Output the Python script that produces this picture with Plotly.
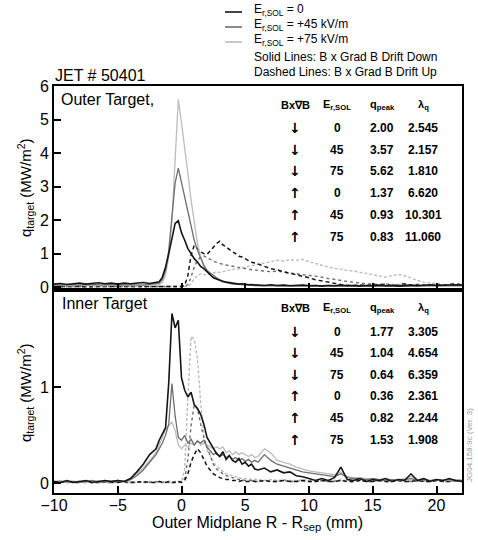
import plotly.graph_objects as go
from plotly.subplots import make_subplots

# ---------------- data ----------------
X = [-10, -9.5, -9, -8.5, -8, -7.5, -7, -6.5, -6, -5.5, -5, -4.5, -4, -3.5, -3, -2.5,
     -2, -1.75, -1.5, -1.25, -1, -0.75, -0.5, -0.25, 0, 0.25, 0.5, 0.75, 1, 1.25, 1.5, 1.75,
     2, 2.25, 2.5, 2.75, 3, 3.25, 3.5, 3.75, 4, 4.25, 4.5, 4.75, 5, 5.25, 5.5, 5.75,
     6, 6.5, 7, 7.5, 8, 8.5, 9, 9.5, 10, 10.5, 11, 11.5, 12, 12.5, 13, 13.5, 14, 14.5,
     15, 15.5, 16, 16.5, 17, 17.5, 18, 18.5, 19, 19.5, 20, 20.5, 21, 21.5, 22]

# Outer target
OUT_SOLID_0 = [0.09, 0.11, 0.08, 0.10, 0.12, 0.09, 0.11, 0.13, 0.10, 0.12, 0.09, 0.12, 0.10, 0.12, 0.14, 0.11,
               0.13, 0.16, 0.30, 0.60, 1.00, 1.45, 1.90, 1.98, 1.62, 1.40, 1.15, 1.00, 0.85, 0.75, 0.62, 0.55,
               0.45, 0.36, 0.28, 0.24, 0.20, 0.17, 0.15, 0.13, 0.12, 0.10, 0.09, 0.10, 0.08, 0.07, 0.08, 0.06,
               0.06, 0.05, 0.07, 0.05, 0.06, 0.04, 0.05, 0.06, 0.04, 0.05, 0.03, 0.05, 0.04, 0.06, 0.04, 0.05,
               0.03, 0.05, 0.04, 0.06, 0.04, 0.05, 0.03, 0.05, 0.06, 0.04, 0.05, 0.07, 0.05, 0.06, 0.05, 0.07, 0.06]
OUT_SOLID_45 = [0.07, 0.06, 0.08, 0.07, 0.06, 0.08, 0.07, 0.06, 0.07, 0.08, 0.06, 0.07, 0.08, 0.07, 0.06, 0.08,
                0.09, 0.12, 0.22, 0.50, 1.10, 2.10, 3.10, 3.55, 3.10, 2.70, 2.20, 1.75, 1.40, 1.10, 0.85, 0.65,
                0.50, 0.42, 0.35, 0.28, 0.22, 0.18, 0.15, 0.12, 0.10, 0.09, 0.08, 0.07, 0.06, 0.06, 0.05, 0.05,
                0.05, 0.04, 0.05, 0.04, 0.05, 0.04, 0.04, 0.05, 0.03, 0.04, 0.05, 0.04, 0.03, 0.04, 0.05, 0.04,
                0.03, 0.04, 0.05, 0.04, 0.03, 0.04, 0.05, 0.04, 0.03, 0.04, 0.05, 0.04, 0.05, 0.04, 0.05, 0.04, 0.05]
OUT_SOLID_75 = [0.05, 0.06, 0.05, 0.04, 0.06, 0.05, 0.06, 0.05, 0.04, 0.06, 0.05, 0.06, 0.05, 0.04, 0.06, 0.05,
                0.06, 0.08, 0.14, 0.35, 0.90, 2.00, 3.80, 5.60, 4.90, 4.20, 3.40, 2.60, 1.90, 1.30, 0.90, 0.65,
                0.50, 0.38, 0.30, 0.24, 0.20, 0.16, 0.13, 0.11, 0.10, 0.09, 0.08, 0.07, 0.07, 0.06, 0.06, 0.05,
                0.05, 0.05, 0.04, 0.05, 0.04, 0.05, 0.04, 0.05, 0.04, 0.04, 0.05, 0.04, 0.05, 0.04, 0.04, 0.05,
                0.04, 0.05, 0.04, 0.04, 0.05, 0.04, 0.05, 0.04, 0.04, 0.05, 0.04, 0.05, 0.04, 0.04, 0.05, 0.04, 0.05]
OUT_DASH_0 = [0.02, 0.01, 0.02, 0.02, 0.01, 0.02, 0.01, 0.02, 0.02, 0.01, 0.02, 0.01, 0.02, 0.02, 0.01, 0.02,
              0.02, 0.01, 0.02, 0.02, 0.01, 0.02, 0.02, 0.01, 0.02, 0.05, 0.35, 0.95, 1.25, 1.15, 1.05, 1.00,
              0.98, 1.08, 1.20, 1.30, 1.37, 1.26, 1.20, 1.12, 1.05, 1.00, 0.92, 0.90, 0.84, 0.80, 0.74, 0.72,
              0.68, 0.62, 0.55, 0.52, 0.46, 0.42, 0.38, 0.33, 0.28, 0.22, 0.18, 0.14, 0.10, 0.08, 0.06, 0.05,
              0.07, 0.05, 0.08, 0.06, 0.09, 0.05, 0.07, 0.10, 0.06, 0.08, 0.05, 0.07, 0.09, 0.06, 0.08, 0.10, 0.07]
OUT_DASH_45 = [0.02, 0.02, 0.01, 0.02, 0.02, 0.01, 0.02, 0.02, 0.01, 0.02, 0.02, 0.01, 0.02, 0.02, 0.01, 0.02,
               0.02, 0.02, 0.01, 0.02, 0.02, 0.01, 0.02, 0.02, 0.01, 0.02, 0.08, 0.30, 0.60, 0.80, 0.90, 0.93,
               0.88, 0.82, 0.78, 0.74, 0.70, 0.68, 0.66, 0.64, 0.62, 0.60, 0.58, 0.57, 0.55, 0.54, 0.52, 0.51,
               0.50, 0.48, 0.46, 0.48, 0.44, 0.42, 0.40, 0.38, 0.36, 0.33, 0.30, 0.26, 0.22, 0.20, 0.17, 0.14,
               0.12, 0.10, 0.09, 0.08, 0.10, 0.07, 0.06, 0.08, 0.06, 0.05, 0.07, 0.05, 0.06, 0.05, 0.06, 0.05, 0.05]
OUT_DASH_75 = [0.02, 0.01, 0.02, 0.01, 0.02, 0.01, 0.02, 0.01, 0.02, 0.01, 0.02, 0.01, 0.02, 0.01, 0.02, 0.01,
               0.02, 0.01, 0.02, 0.01, 0.02, 0.01, 0.02, 0.01, 0.02, 0.01, 0.02, 0.10, 0.25, 0.35, 0.40, 0.38,
               0.36, 0.40, 0.42, 0.45, 0.44, 0.46, 0.48, 0.50, 0.52, 0.55, 0.54, 0.58, 0.60, 0.62, 0.64, 0.66,
               0.68, 0.72, 0.76, 0.80, 0.78, 0.82, 0.80, 0.83, 0.76, 0.70, 0.64, 0.60, 0.56, 0.52, 0.50, 0.48,
               0.44, 0.40, 0.36, 0.32, 0.30, 0.34, 0.38, 0.34, 0.26, 0.20, 0.15, 0.12, 0.10, 0.08, 0.06, 0.05, 0.05]

# Inner target
IN_SOLID_0 = [0.02, 0.01, 0.03, 0.01, 0.02, 0.03, 0.01, 0.02, 0.03, 0.02, 0.03, 0.02, 0.05, 0.12, 0.20, 0.30,
              0.36, 0.45, 0.52, 0.58, 1.05, 1.77, 1.62, 1.70, 1.10, 0.97, 0.90, 0.95, 0.82, 0.78, 0.72, 0.62,
              0.48, 0.42, 0.36, 0.31, 0.28, 0.33, 0.25, 0.29, 0.24, 0.22, 0.26, 0.20, 0.22, 0.18, 0.20, 0.15,
              0.14, 0.16, 0.12, 0.14, 0.11, 0.12, 0.08, 0.07, 0.05, 0.03, 0.05, 0.03, 0.06, 0.17, 0.04, 0.03,
              0.05, 0.02, 0.04, 0.03, 0.05, 0.02, 0.04, 0.03, 0.10, 0.03, 0.05, 0.02, 0.04, 0.03, 0.05, 0.03, 0.02]
IN_SOLID_45 = [0.02, 0.01, 0.02, 0.02, 0.01, 0.02, 0.03, 0.01, 0.02, 0.02, 0.03, 0.02, 0.04, 0.08, 0.14, 0.22,
               0.30, 0.36, 0.42, 0.50, 0.62, 1.04, 0.70, 0.48, 0.45, 0.50, 0.42, 0.46, 0.40, 0.44, 0.42, 0.45,
               0.38, 0.34, 0.30, 0.32, 0.28, 0.30, 0.27, 0.29, 0.25, 0.27, 0.24, 0.26, 0.23, 0.25, 0.22, 0.24,
               0.22, 0.30, 0.24, 0.20, 0.18, 0.16, 0.14, 0.12, 0.11, 0.10, 0.09, 0.08, 0.07, 0.10, 0.06, 0.05,
               0.05, 0.04, 0.05, 0.04, 0.03, 0.04, 0.03, 0.04, 0.05, 0.03, 0.04, 0.03, 0.04, 0.03, 0.04, 0.03, 0.03]
IN_SOLID_75 = [0.02, 0.03, 0.01, 0.02, 0.02, 0.01, 0.02, 0.03, 0.02, 0.02, 0.03, 0.02, 0.05, 0.10, 0.16, 0.24,
               0.32, 0.40, 0.48, 0.56, 0.60, 0.64, 0.55, 0.40, 0.36, 0.40, 0.38, 0.42, 0.40, 0.45, 0.40, 0.42,
               0.40, 0.38, 0.36, 0.38, 0.36, 0.38, 0.32, 0.34, 0.30, 0.33, 0.30, 0.32, 0.30, 0.28, 0.30, 0.27,
               0.28, 0.36, 0.32, 0.24, 0.22, 0.20, 0.17, 0.15, 0.13, 0.12, 0.11, 0.10, 0.09, 0.12, 0.07, 0.06,
               0.06, 0.05, 0.05, 0.04, 0.05, 0.04, 0.04, 0.05, 0.07, 0.04, 0.05, 0.03, 0.04, 0.04, 0.03, 0.04, 0.03]
IN_DASH_0 = [0.01, 0.01, 0.02, 0.01, 0.01, 0.02, 0.01, 0.01, 0.02, 0.01, 0.01, 0.02, 0.01, 0.01, 0.02, 0.01,
             0.01, 0.02, 0.01, 0.01, 0.02, 0.01, 0.01, 0.02, 0.01, 0.03, 0.10, 0.22, 0.30, 0.36, 0.32, 0.25,
             0.18, 0.14, 0.10, 0.08, 0.06, 0.05, 0.04, 0.04, 0.03, 0.03, 0.02, 0.03, 0.02, 0.02, 0.03, 0.02,
             0.02, 0.03, 0.02, 0.02, 0.03, 0.02, 0.02, 0.03, 0.02, 0.02, 0.03, 0.02, 0.02, 0.03, 0.02, 0.02,
             0.03, 0.02, 0.02, 0.03, 0.02, 0.02, 0.03, 0.02, 0.02, 0.03, 0.02, 0.02, 0.03, 0.02, 0.02, 0.03, 0.02]
IN_DASH_45 = [0.01, 0.02, 0.01, 0.01, 0.02, 0.01, 0.01, 0.02, 0.01, 0.01, 0.02, 0.01, 0.01, 0.02, 0.01, 0.01,
              0.02, 0.01, 0.01, 0.02, 0.01, 0.01, 0.02, 0.01, 0.02, 0.05, 0.25, 0.60, 0.82, 0.78, 0.62, 0.48,
              0.38, 0.28, 0.20, 0.15, 0.12, 0.10, 0.08, 0.07, 0.06, 0.05, 0.04, 0.04, 0.03, 0.03, 0.03, 0.02,
              0.02, 0.03, 0.02, 0.02, 0.03, 0.02, 0.02, 0.03, 0.02, 0.02, 0.03, 0.02, 0.02, 0.03, 0.02, 0.02,
              0.03, 0.02, 0.02, 0.03, 0.02, 0.02, 0.03, 0.02, 0.02, 0.03, 0.02, 0.02, 0.03, 0.02, 0.02, 0.03, 0.02]
IN_DASH_75 = [0.02, 0.01, 0.02, 0.02, 0.01, 0.02, 0.02, 0.01, 0.02, 0.02, 0.01, 0.02, 0.02, 0.01, 0.02, 0.02,
              0.01, 0.02, 0.02, 0.01, 0.02, 0.02, 0.01, 0.02, 0.02, 0.15, 0.90, 1.53, 1.50, 1.30, 0.85, 0.50,
              0.35, 0.28, 0.22, 0.18, 0.15, 0.12, 0.10, 0.09, 0.08, 0.07, 0.06, 0.05, 0.05, 0.05, 0.04, 0.04,
              0.04, 0.03, 0.04, 0.03, 0.04, 0.03, 0.03, 0.04, 0.03, 0.03, 0.04, 0.03, 0.03, 0.04, 0.03, 0.03,
              0.04, 0.03, 0.03, 0.04, 0.03, 0.03, 0.04, 0.03, 0.03, 0.04, 0.03, 0.03, 0.04, 0.03, 0.03, 0.04, 0.03]

X_TICKS = [-10, -5, 0, 5, 10, 15, 20]
Y_TICKS_TOP = [0, 1, 2, 3, 4, 5, 6]
Y_TICKS_BOT = [0, 1]

LEGEND_LABELS = ["E<sub>r,SOL</sub> = 0", "E<sub>r,SOL</sub> = +45 kV/m", "E<sub>r,SOL</sub> = +75 kV/m"]
LEGEND_NOTES = ["Solid Lines: B x Grad B Drift Down", "Dashed Lines: B x Grad B Drift Up"]

TABLE_HEADER = ["Bx\u2207B", "E<sub>r,SOL</sub>", "q<sub>peak</sub>", "\u03bb<sub>q</sub>"]
OUT_DIR = ["\u2193", "\u2193", "\u2193", "\u2191", "\u2191", "\u2191"]
OUT_E = ["0", "45", "75", "0", "45", "75"]
OUT_QPEAK = ["2.00", "3.57", "5.62", "1.37", "0.93", "0.83"]
OUT_LAMBDA = ["2.545", "2.157", "1.810", "6.620", "10.301", "11.060"]
IN_DIR = ["\u2193", "\u2193", "\u2193", "\u2191", "\u2191", "\u2191"]
IN_E = ["0", "45", "75", "0", "45", "75"]
IN_QPEAK = ["1.77", "1.04", "0.64", "0.36", "0.82", "1.53"]
IN_LAMBDA = ["3.305", "4.654", "6.359", "2.361", "2.244", "1.908"]

# ---------------- styling ----------------
FONT = "Liberation Sans, Arial, Helvetica, sans-serif"
ARROW_FONT = "DejaVu Sans, sans-serif"
C_BLACK = "#151515"
C_DARK = "#6e6e6e"
C_LIGHT = "#bcbcbc"

W, H = 478, 540
ML, MT, MR, MB = 54, 86, 16, 47
PW, PH = W - ML - MR, H - MT - MB


def px(xp):
    return (xp - ML) / PW


def py(yp):
    return (H - MB - yp) / PH


fig = make_subplots(rows=2, cols=1, shared_xaxes=True, vertical_spacing=0)

series_top = [
    (OUT_DASH_75, C_LIGHT, "3px,2px", 1.4),
    (OUT_DASH_45, C_DARK, "3px,3px", 1.4),
    (OUT_DASH_0, C_BLACK, "4px,3px", 1.5),
    (OUT_SOLID_75, C_LIGHT, None, 1.3),
    (OUT_SOLID_45, C_DARK, None, 1.3),
    (OUT_SOLID_0, C_BLACK, None, 1.6),
]
series_bot = [
    (IN_DASH_75, C_LIGHT, "3px,2px", 1.4),
    (IN_DASH_45, C_DARK, "3px,3px", 1.4),
    (IN_DASH_0, C_BLACK, "4px,3px", 1.5),
    (IN_SOLID_75, C_LIGHT, None, 1.3),
    (IN_SOLID_45, C_DARK, None, 1.3),
    (IN_SOLID_0, C_BLACK, None, 1.6),
]
for row, ser in ((1, series_top), (2, series_bot)):
    for ys, col, dash, w in ser:
        line = dict(color=col, width=w)
        if dash:
            line["dash"] = dash
        fig.add_trace(go.Scatter(x=X, y=ys, mode="lines", line=line,
                                 showlegend=False, hoverinfo="skip"), row=row, col=1)

axis_common = dict(showline=True, linecolor="black", linewidth=2, mirror=True,
                   ticks="inside", ticklen=7, tickwidth=1.5, tickcolor="black",
                   showgrid=False, zeroline=False,
                   tickfont=dict(family=FONT, size=16, color="black"))

fig.update_xaxes(range=[-10, 22], tickvals=X_TICKS, **axis_common)
fig.update_xaxes(showticklabels=False, row=1, col=1)
fig.update_xaxes(ticklabelstandoff=-3, row=2, col=1)
fig.update_yaxes(**axis_common)
fig.update_yaxes(range=[-0.07, 6], tickvals=Y_TICKS_TOP, row=1, col=1)
fig.update_yaxes(range=[-0.1, 2.02], tickvals=Y_TICKS_BOT, row=2, col=1)

ann = []


def text(s, xp, yp, size=11, anchor="center", color="black", angle=0, family=FONT):
    ann.append(dict(text=s, x=px(xp), y=py(yp), xref="paper", yref="paper",
                    xanchor=anchor, yanchor="middle", showarrow=False, textangle=angle,
                    font=dict(family=family, size=size, color=color)))


# titles / labels
text("JET # 50401", 53, 76, size=16, anchor="left")
text("Outer Target,", 59, 99, size=16, anchor="left")
text("Inner Target", 60, 303, size=16, anchor="left")
text("Outer Midplane R - R<sub>sep</sub> (mm)", 257, 523, size=16)
text("q<sub>target</sub> (MW/m<sup>2</sup>)", 25, 188, size=15, angle=-90)
text("q<sub>target</sub> (MW/m<sup>2</sup>)", 25, 393, size=15, angle=-90)
text("JG04.158-9c (Ver. 3)", 469, 445, size=8, color="#9a9a9a", angle=-90)

# legend
shapes = []
leg_rows = [10, 25, 40]
leg_cols = [C_BLACK, C_DARK, C_LIGHT]
for lab, yrow, col in zip(LEGEND_LABELS, leg_rows, leg_cols):
    shapes.append(dict(type="line", xref="paper", yref="paper",
                       x0=px(225), x1=px(242), y0=py(yrow + 2), y1=py(yrow + 2),
                       line=dict(color=col, width=1.6)))
    text(lab, 252, yrow, size=12, anchor="left")
text(LEGEND_NOTES[0], 252, 57, size=12, anchor="left")
text(LEGEND_NOTES[1], 252, 72, size=12, anchor="left")

# tables
cols_x = [295, 337, 382, 423]
for hdr_y, rows_y, d, e, q, l in (
        (105, [128, 150, 171, 193, 215, 237], OUT_DIR, OUT_E, OUT_QPEAK, OUT_LAMBDA),
        (308, [332, 353, 375, 396, 418, 440], IN_DIR, IN_E, IN_QPEAK, IN_LAMBDA)):
    for h, cx in zip(TABLE_HEADER, cols_x):
        text("<b>" + h + "</b>", cx, hdr_y, size=11)
    for i, ry in enumerate(rows_y):
        text("<b>" + d[i] + "</b>", cols_x[0], ry, size=14, family=ARROW_FONT)
        for val, cx in zip((e[i], q[i], l[i]), cols_x[1:]):
            text("<b>" + val + "</b>", cx, ry, size=12)

fig.update_layout(width=W, height=H, margin=dict(l=ML, r=MR, t=MT, b=MB),
                  plot_bgcolor="white", paper_bgcolor="white",
                  annotations=ann, shapes=shapes, showlegend=False,
                  font=dict(family=FONT, color="black"))

fig.write_html("out.html", config={"displayModeBar": False},
               post_script="document.body.style.margin='0px';document.body.style.overflow='hidden';")
